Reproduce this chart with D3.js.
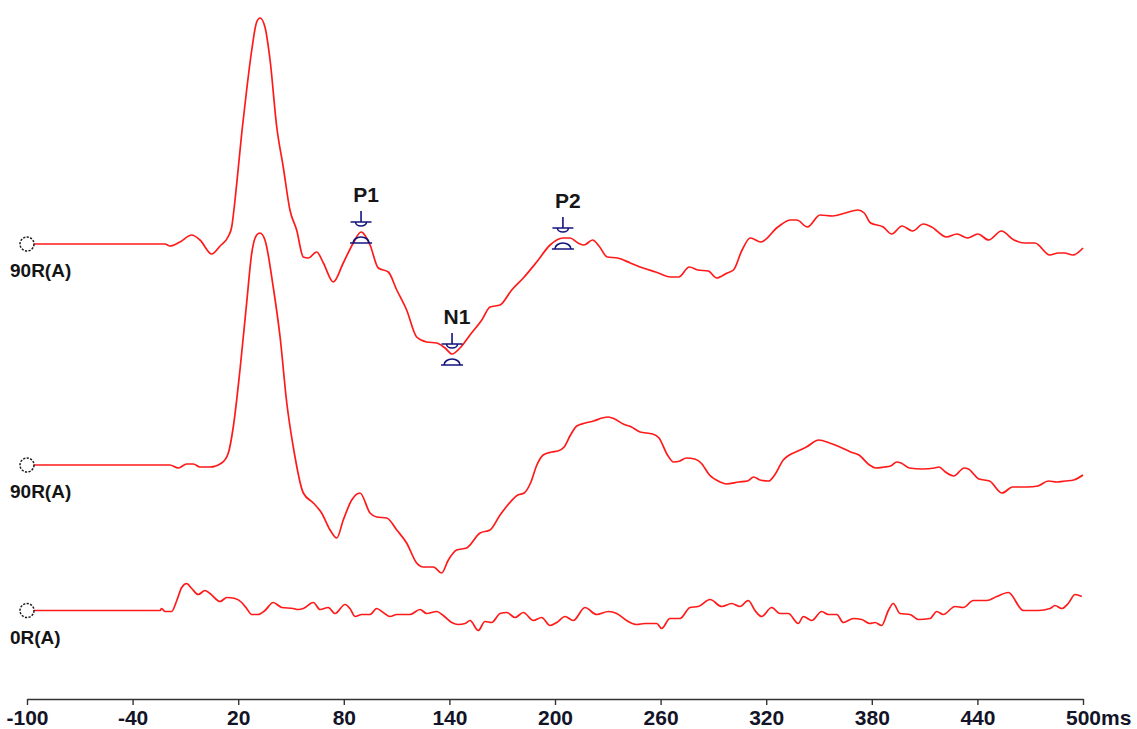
<!DOCTYPE html>
<html>
<head>
<meta charset="utf-8">
<script src="https://cdn.jsdelivr.net/npm/d3@7/dist/d3.min.js"></script>
<style>
  html, body { margin: 0; padding: 0; background: #fff; }
  svg { display: block; }
</style>
</head>
<body>
<div id="chart"></div>
<script>
// ---------- data (time in ms, amplitude in arbitrary units) ----------
const traceLabels = ["90R(A)", "90R(A)", "0R(A)"];

const trace1 = [[-100,0],[-21.6,0],[-18.8,-0.2],[-13.1,0.2],[-6.4,0.9],[-1.7,0.4],[4.9,-1.0],[9.7,-0.2],[14.2,0.7],[16.3,1.7],[18.2,4.4],[20.1,7.7],[22.2,11.4],[24.8,15.4],[27.7,19.4],[30.5,22.2],[32.4,22.6],[35.2,21.7],[38.1,18.4],[41.9,11.7],[45.6,7.7],[49.4,3.4],[53.2,1.4],[57.0,-1.3],[59.8,-1.4],[64.6,-0.8],[68.4,-1.9],[74.0,-3.8],[79.7,-1.9],[85.4,0.1],[89.8,1.2],[94.9,-0.1],[99.6,-2.4],[105.3,-2.8],[110.1,-4.6],[115.7,-6.6],[121.4,-9.3],[127.1,-9.8],[132.8,-9.9],[137.5,-10.4],[141.5,-11.0],[146.0,-10.4],[151.7,-9.1],[158.4,-7.6],[163.1,-6.3],[168.8,-6.1],[175.4,-4.6],[182.0,-3.4],[189.6,-1.8],[197.2,-0.1],[204.5,0.6],[208.5,0.6],[213.1,0.1],[216.5,-0.1],[221.3,0.4],[225.0,-0.2],[229.7,-1.3],[235.6,-1.4],[242.8,-1.9],[250.0,-2.4],[257.2,-2.8],[265.6,-3.3],[270.3,-3.3],[276.3,-2.3],[281.1,-2.6],[287.1,-2.7],[291.9,-3.4],[297.8,-2.9],[301.4,-2.6],[306.3,-0.6],[311.0,0.6],[317.0,0.2],[326.6,1.7],[333.8,2.4],[337.4,2.4],[343.4,1.7],[350.6,2.9],[357.7,2.8],[364.9,3.1],[372.1,3.4],[375.7,3.1],[379.3,2.1],[386.5,1.7],[391.3,1.0],[397.2,1.8],[403.2,1.3],[409.2,2.0],[414.0,1.7],[422.4,0.7],[428.4,1.0],[434.4,0.6],[440.3,1.0],[446.4,0.4],[453.6,1.3],[460.8,0.4],[466.8,0.1],[472.7,0.1],[481.1,-1.1],[485.9,-0.9],[489.5,-0.9],[494.3,-1.1],[500,-0.4]];

const trace2 = [[-100,0],[-18.8,0],[-14.0,-0.3],[-9.3,0.1],[-5.5,0.1],[-1.7,-0.2],[4.0,-0.2],[10.6,0.2],[14.4,1.2],[17.2,3.8],[21.0,9.5],[24.8,16.2],[27.7,21.2],[30.5,23.0],[32.4,23.2],[35.2,22.5],[39.9,17.8],[43.8,12.8],[47.6,6.2],[51.3,1.8],[57.0,-2.8],[62.7,-3.8],[67.4,-4.8],[72.2,-6.5],[76.0,-7.3],[79.7,-5.5],[84.5,-3.5],[89.2,-2.8],[94.9,-4.8],[98.7,-5.2],[104.4,-5.3],[110.1,-6.5],[115.7,-7.8],[121.4,-9.8],[125.2,-10.2],[130.9,-10.2],[135.6,-10.8],[139.4,-9.5],[144.1,-8.5],[149.8,-8.3],[157.4,-6.8],[163.1,-6.5],[168.8,-5.0],[171.8,-4.3],[178.9,-3.0],[182.5,-2.8],[186.1,-1.8],[189.7,0],[193.3,1.0],[198.1,1.3],[201.6,1.4],[205.2,1.8],[208.8,3.0],[212.4,3.9],[217.2,4.2],[222.0,4.4],[226.8,4.7],[230.3,4.8],[233.9,4.6],[238.8,4.1],[243.5,3.8],[248.3,3.3],[255.5,3.1],[259.1,2.7],[263.9,1.0],[267.4,0.3],[271.0,0.4],[274.6,0.7],[279.4,0.6],[283.0,0.2],[287.8,-1.0],[293.8,-1.7],[297.3,-1.9],[304.5,-1.7],[309.3,-1.6],[312.9,-1.2],[316.5,-1.5],[321.3,-1.6],[324.8,-1.0],[329.7,0.5],[333.2,1.0],[338.0,1.4],[342.8,1.8],[349.9,2.5],[356.0,2.2],[361.9,1.8],[367.9,1.3],[372.7,1.0],[378.7,0],[382.3,-0.3],[387.0,-0.2],[390.6,-0.1],[394.2,0.3],[396.6,0.2],[401.4,-0.3],[408.6,-0.4],[415.7,-0.3],[418.2,-0.2],[421.8,-0.7],[426.5,-1.1],[432.5,-0.3],[434.9,-0.4],[440.9,-1.4],[446.9,-1.6],[454.0,-2.8],[460.0,-2.2],[468.4,-2.2],[474.4,-2.1],[480.3,-1.6],[485.1,-1.7],[489.9,-1.6],[494.7,-1.5],[500,-1.0]];

const trace3 = [[-100,0],[-24.4,0],[-23.5,0.2],[-21.6,-0.1],[-17.8,-0.1],[-14.9,1.0],[-12.1,2.3],[-9.3,2.7],[-6.4,2.2],[-2.7,1.6],[1.1,2.0],[4.0,1.7],[9.7,0.9],[13.5,1.3],[18.2,1.2],[22.0,0.8],[24.8,0.2],[27.7,-0.4],[31.4,-0.4],[35.2,0],[39.9,0.8],[44.7,0.3],[51.3,0.2],[54.1,0.1],[57.0,0.2],[62.7,0.8],[66.5,0.1],[71.2,0.3],[75.0,-0.3],[80.7,0.6],[83.5,0.2],[86.4,-0.6],[90.2,-0.4],[94.9,-0.4],[98.7,0.2],[102.4,-0.2],[106.3,-0.6],[110.1,-0.4],[117.6,-0.4],[123.3,0.1],[127.1,-0.3],[132.8,-0.1],[136.5,-0.5],[141.3,-1.2],[145.1,-1.4],[148.9,-1.3],[151.7,-1.0],[156.4,-2.0],[160.2,-1.1],[164.0,-1.2],[168.8,-0.3],[172.6,-0.2],[177.3,-0.7],[182.0,-0.2],[187.7,-1.0],[192.4,-0.7],[197.2,-1.5],[201.0,-1.2],[205.7,-0.6],[210.4,-1.0],[217.0,0.3],[223.7,-0.4],[230.3,-0.1],[235.1,-0.3],[240.7,-1.0],[246.4,-1.4],[251.1,-1.3],[257.8,-1.3],[260.6,-1.8],[265.3,-0.8],[271.0,-0.8],[276.7,0.3],[281.4,0.4],[288.1,1.1],[294.7,0.4],[300.4,0.7],[305.1,0.4],[309.8,1.0],[313.6,0],[317.4,-0.6],[323.1,0.3],[327.8,-0.3],[332.6,-0.3],[338.2,-1.3],[341.1,-0.6],[345.9,-1.0],[351.5,-0.1],[355.3,-0.4],[360.1,-0.4],[363.8,-1.2],[369.5,-0.8],[374.3,-0.9],[379.0,-1.3],[381.8,-1.2],[385.6,-1.5],[389.4,0],[392.2,0.7],[396.0,-0.3],[401.7,-0.4],[406.4,-0.9],[413.1,-0.8],[416.9,-0.1],[420.6,-0.4],[427.3,0.4],[432.0,0.3],[437.7,1.0],[445.3,1.0],[451.0,1.4],[457.6,1.8],[466.1,0],[474.6,0],[481.3,0.2],[484.1,0.5],[487.9,0.2],[491.6,0.7],[495.5,1.6],[499.3,1.4]];

const markerNames  = ["P1", "N1", "P2"];
const markerTimes  = [89.8, 141.5, 204.5];
const markerValues = [1.2, -11.0, 0.6];

const tickValues = [-100, -40, 20, 80, 140, 200, 260, 320, 380, 440, 500];
const tickLabels = ["-100", "-40", "20", "80", "140", "200", "260", "320", "380", "440", "500"];
const timeUnit = "ms";

// ---------- layout ----------
const W = 1137, H = 729;
const axisY = 699;
const pxPerUnit = 10;
const baselines = [244, 465, 610.5];
const traces = [trace1, trace2, trace3];

const svg = d3.select("#chart").append("svg")
  .attr("width", W).attr("height", H)
  .attr("viewBox", `0 0 ${W} ${H}`);

const x = d3.scaleLinear().domain([-100, 500]).range([27, 1083]);

const yScales = baselines.map(b => d3.scaleLinear().domain([0, 1]).range([b, b - pxPerUnit]));

// traces
traces.forEach((tr, i) => {
  const y = yScales[i];
  const line = d3.line().curve(d3.curveMonotoneX).x(d => x(d[0])).y(d => y(d[1]));
  svg.append("path")
    .datum(tr)
    .attr("d", line)
    .attr("fill", "none")
    .attr("stroke", "#ff1a1a")
    .attr("stroke-width", 1.7)
    .attr("stroke-linejoin", "round");

  // origin circle
  svg.append("circle")
    .attr("cx", x(-100)).attr("cy", y(0)).attr("r", 7)
    .attr("fill", "#fff")
    .attr("stroke", "#1a1a1a")
    .attr("stroke-width", 1.5)
    .attr("stroke-dasharray", "2.2,1.4");

  svg.append("text")
    .attr("x", 10).attr("y", y(0) + 33)
    .attr("font-family", "'Liberation Sans', Arial, sans-serif")
    .attr("font-weight", "bold")
    .attr("font-size", 19)
    .attr("fill", "#141414")
    .text(traceLabels[i]);
});

// peak markers (on trace 1)
const mColor = "#14147e";
const mg = svg.append("g");
markerNames.forEach((name, i) => {
  const mx = x(markerTimes[i]);
  const my = yScales[0](markerValues[i]);
  const up = `M${mx},${my - 21}V${my - 10}M${mx - 10.5},${my - 10}H${mx + 10.5}` +
             `M${mx - 5.5},${my - 10}A5.5,4 0 0 0 ${mx + 5.5},${my - 10}`;
  const down = `M${mx - 11},${my + 11}H${mx + 11}M${mx - 8},${my + 11}A8,6 0 0 1 ${mx + 8},${my + 11}`;
  mg.append("path").attr("d", up).attr("fill", "none").attr("stroke", mColor).attr("stroke-width", 1.6);
  mg.append("path").attr("d", down).attr("fill", "none").attr("stroke", mColor).attr("stroke-width", 1.6);
  mg.append("text")
    .attr("x", mx + 5).attr("y", my - 30)
    .attr("text-anchor", "middle")
    .attr("font-family", "'Liberation Sans', Arial, sans-serif")
    .attr("font-weight", "bold")
    .attr("font-size", 21)
    .attr("fill", "#161616")
    .text(name);
});

// time axis
const axis = d3.axisBottom(x)
  .tickValues(tickValues)
  .tickSize(6)
  .tickSizeOuter(0)
  .tickFormat((d, i) => tickLabels[i]);

const gAxis = svg.append("g")
  .attr("transform", `translate(0,${axisY})`)
  .call(axis);

gAxis.select(".domain").attr("stroke", "#333").attr("stroke-width", 1.6);
gAxis.selectAll(".tick line").attr("stroke", "#333").attr("stroke-width", 1.4);
gAxis.selectAll(".tick text")
  .attr("y", 11)
  .attr("font-family", "'Liberation Sans', Arial, sans-serif")
  .attr("font-weight", "bold")
  .attr("font-size", 21)
  .attr("fill", "#141428");

const lastText = gAxis.selectAll(".tick text").filter((d, i, n) => i === n.length - 1);
const wLast = lastText.node().getComputedTextLength();
lastText.attr("text-anchor", "start").attr("x", -wLast / 2);
lastText.append("tspan").text(timeUnit);
</script>
</body>
</html>
